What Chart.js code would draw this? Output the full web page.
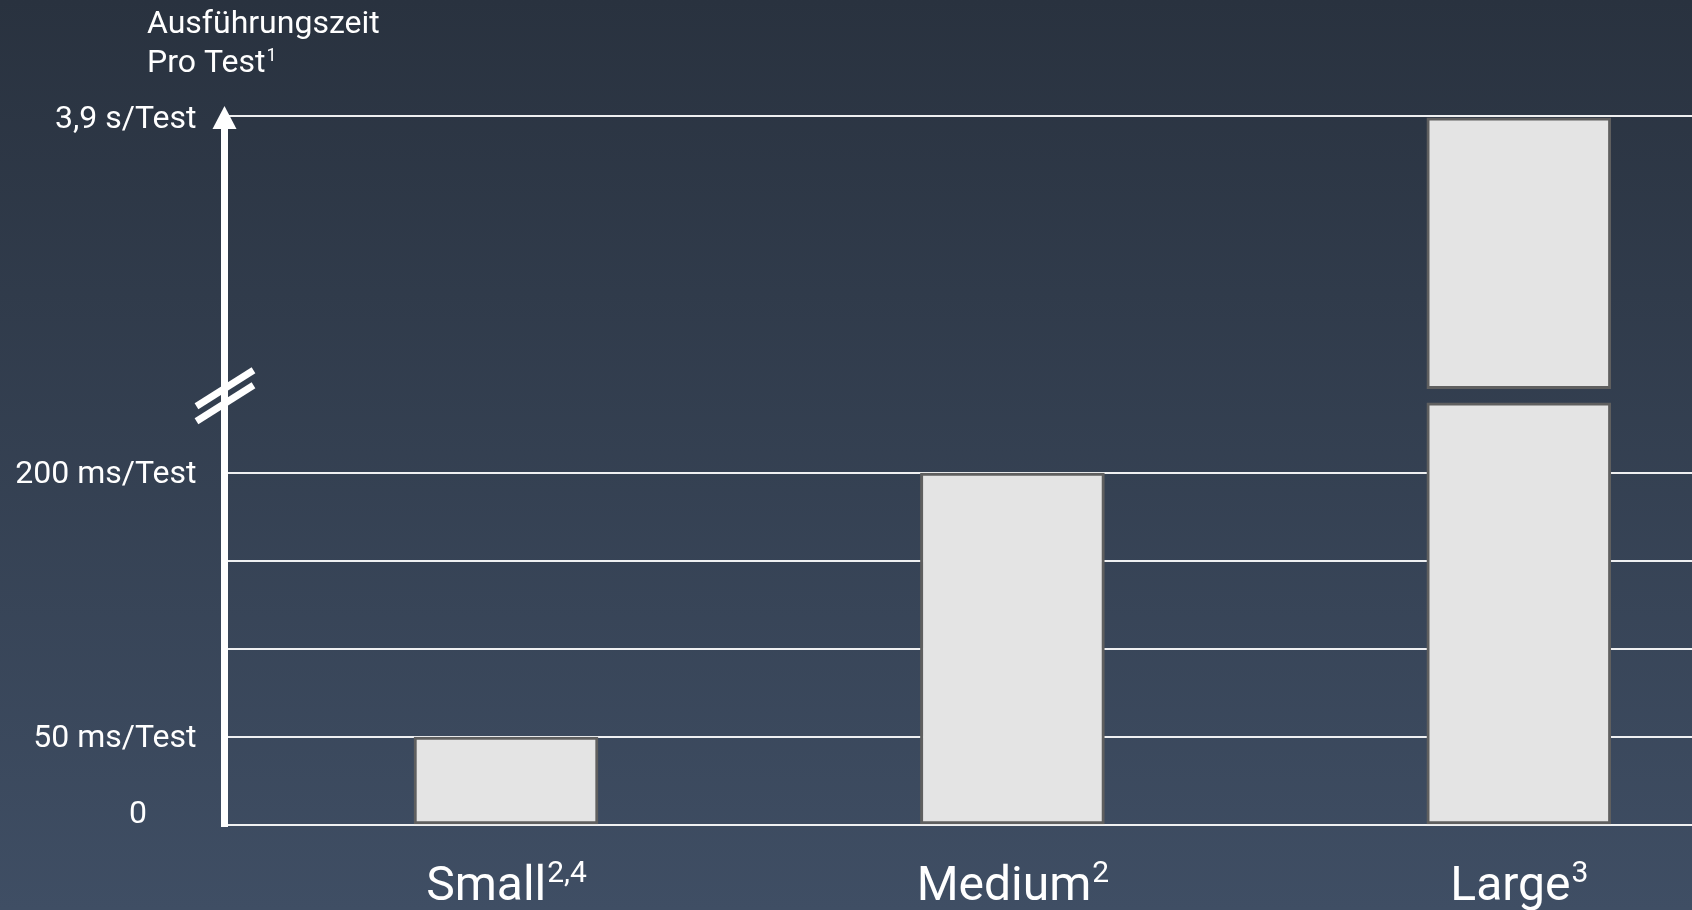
<!DOCTYPE html>
<html lang="de">
<head>
	<meta charset="utf-8" />
	<title>Ausführungszeit pro Test</title>
	<style>
		html, body { margin: 0; padding: 0; overflow: hidden; }
		body { width: 1692px; height: 910px; background: linear-gradient(to bottom, #29323f 0%, #3f4e64 100%); }
		canvas { display: block; }
	</style>
</head>
<body>
	<canvas id="barchart" width="1692" height="910"></canvas>

	<script src="https://cdn.jsdelivr.net/npm/chart.js@4.4.1/dist/chart.umd.min.js"></script>
	<script>
		// Daten
		const categories = ['Small', 'Medium', 'Large'];
		const categoryNotes = ['2,4', '2', '3'];
		const timesMs = [50, 200, 3900];
		const tickValuesMs = [0, 50, 200, 3900];
		const tickLabels = ['0', '50 ms/Test', '200 ms/Test', '3,9 s/Test'];
		const gridValuesMs = [0, 50, 100, 150, 200, 3900];

		// Achse mit Bruch: 0-200 ms linear, darüber gestaucht
		const linearMax = 200;
		const breakLow = 240;
		const breakHigh = 248;
		const axisTop = 402;
		const axisMax = 403;

		function toAxis(ms) {
			if (ms <= linearMax) return ms;
			return breakHigh + (ms - linearMax) / (3900 - linearMax) * (axisTop - breakHigh);
		}

		const lowerPart = timesMs.map((v, i) => ({ x: i, y: [0, Math.min(toAxis(v), breakLow)] }));
		const upperPart = timesMs.map((v, i) => v > linearMax ? { x: i, y: [breakHigh, toAxis(v)] } : null).filter(d => d);

		const FONT = 'Roboto, "Noto Sans", sans-serif';

		const barStyle = {
			backgroundColor: '#e4e4e4',
			borderColor: '#5f5f5f',
			borderWidth: 3,
			borderSkipped: false,
			barThickness: 184,
			grouped: false
		};

		function textWithSup(ctx, text, sup, x, y, size, supSize, supRise, align) {
			ctx.font = size + 'px ' + FONT;
			const w1 = ctx.measureText(text).width;
			ctx.font = supSize + 'px ' + FONT;
			const w2 = ctx.measureText(sup).width;
			let start = x;
			if (align === 'center') start = x - (w1 + w2) / 2;
			ctx.textAlign = 'left';
			ctx.textBaseline = 'alphabetic';
			ctx.font = size + 'px ' + FONT;
			ctx.fillText(text, start, y);
			ctx.font = supSize + 'px ' + FONT;
			ctx.fillText(sup, start + w1 + 1, y - supRise);
		}

		const overlay = {
			id: 'overlay',
			afterDraw(chart) {
				const { ctx, chartArea, scales } = chart;
				const x = scales.x, y = scales.y;
				const axisX = chartArea.left - 3.5;
				ctx.save();
				ctx.fillStyle = '#ffffff';
				ctx.strokeStyle = '#ffffff';

				// Pfeil-Achse
				ctx.lineWidth = 7;
				ctx.beginPath();
				ctx.moveTo(axisX, chartArea.bottom + 2);
				ctx.lineTo(axisX, chartArea.top + 10);
				ctx.stroke();
				ctx.beginPath();
				ctx.moveTo(axisX - 12, chartArea.top + 13);
				ctx.lineTo(axisX + 12, chartArea.top + 13);
				ctx.lineTo(axisX, chartArea.top - 10);
				ctx.closePath();
				ctx.fill();

				// Achsenbruch
				const yb = y.getPixelForValue((breakLow + breakHigh) / 2);
				ctx.lineWidth = 7;
				[-7.5, 7.5].forEach(off => {
					ctx.beginPath();
					ctx.moveTo(axisX - 28, yb + off + 18);
					ctx.lineTo(axisX + 29, yb + off - 18);
					ctx.stroke();
				});

				// Y-Beschriftung
				ctx.font = '32px ' + FONT;
				ctx.textAlign = 'right';
				ctx.textBaseline = 'middle';
				tickValuesMs.forEach((v, i) => {
					const py = y.getPixelForValue(toAxis(v));
					if (v === 0) {
						ctx.fillText(tickLabels[i], 147, py - 10);
					} else {
						ctx.fillText(tickLabels[i], axisX - 28, py + 2);
					}
				});

				// X-Beschriftung
				categories.forEach((c, i) => {
					const px = x.getPixelForValue(i);
					textWithSup(ctx, c, categoryNotes[i], px, 900, 48, 30, 18, 'center');
				});

				// Titel
				ctx.font = '32px ' + FONT;
				ctx.textAlign = 'left';
				ctx.textBaseline = 'alphabetic';
				ctx.fillText('Ausführungszeit', 147, 33);
				textWithSup(ctx, 'Pro Test', '1', 147, 72, 32, 18, 11, 'left');

				ctx.restore();
			}
		};

		const ctx = document.querySelector('#barchart').getContext('2d');
		new Chart(ctx, {
			type: 'bar',
			data: {
				datasets: [
					Object.assign({ data: lowerPart }, barStyle),
					Object.assign({ data: upperPart }, barStyle)
				]
			},
			options: {
				responsive: false,
				animation: false,
				layout: { padding: { left: 228, right: 0, top: 116, bottom: 85 } },
				plugins: {
					legend: { display: false },
					tooltip: { enabled: false }
				},
				scales: {
					x: { type: 'linear', min: -0.549, max: 2.342, offset: false, display: false },
					y: {
						min: 0,
						max: axisMax,
						afterBuildTicks: scale => {
							scale.ticks = gridValuesMs.map(v => ({ value: v === 3900 ? axisMax : toAxis(v) }));
						},
						ticks: { display: false },
						grid: { color: 'rgba(255,255,255,0.92)', lineWidth: 2, drawTicks: false },
						border: { display: false }
					}
				}
			},
			plugins: [overlay]
		});
	</script>
</body>
</html>
